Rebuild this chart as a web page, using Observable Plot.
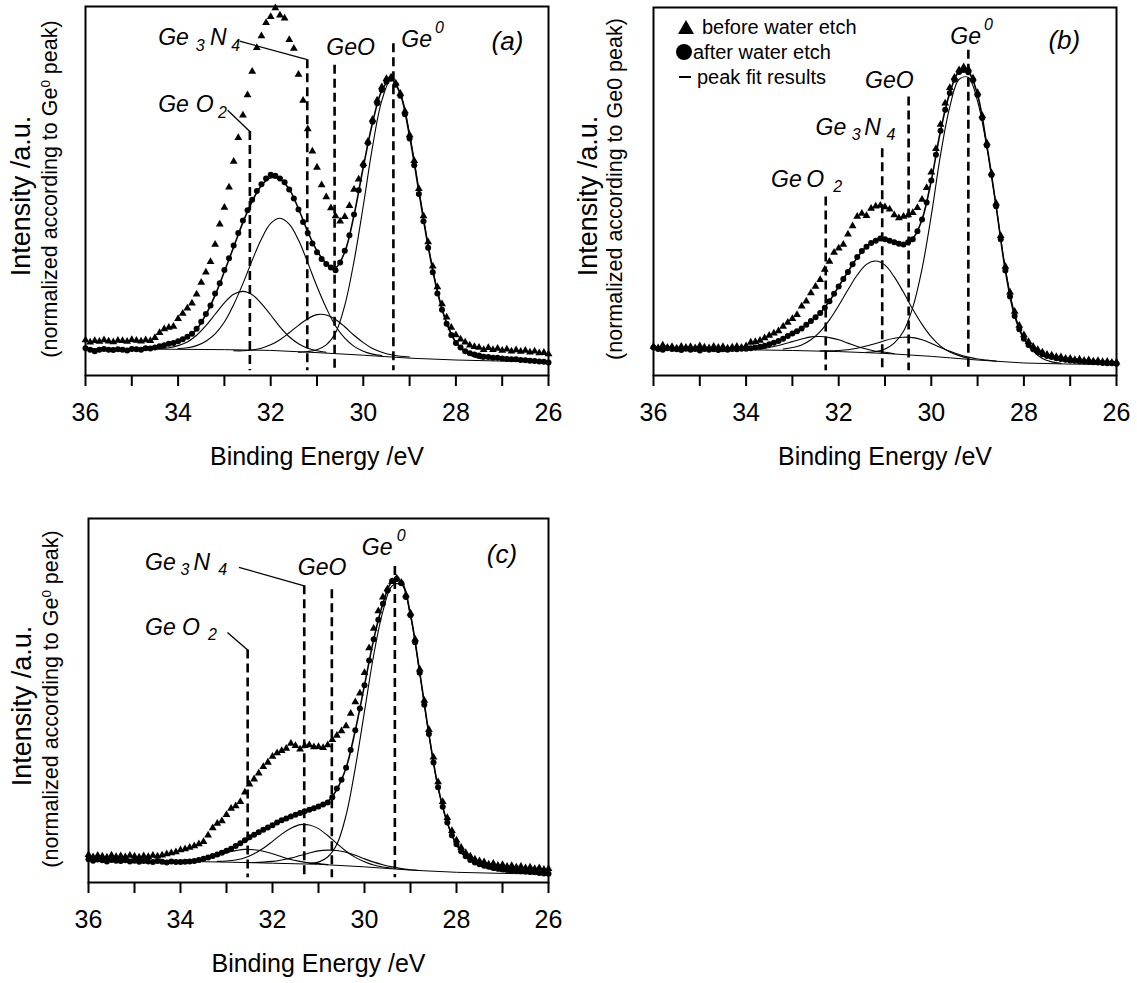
<!DOCTYPE html>
<html>
<head>
<meta charset="utf-8">
<script src="https://cdn.jsdelivr.net/npm/d3@7"></script>
<script src="https://cdn.jsdelivr.net/npm/@observablehq/plot@0.6"></script>
<style>
  html,body{margin:0;padding:0;background:#fff;}
  #root{position:relative;width:1137px;height:983px;overflow:hidden;font-family:"Liberation Sans",Arial,Helvetica,sans-serif;color:#000;}
  .panel{position:absolute;}
  .ylab{position:absolute;white-space:nowrap;transform:translate(-50%,-50%) rotate(-90deg);line-height:1;}
  .ylab sup{font-size:0.62em;vertical-align:0.55em;line-height:0;}
  .leg{position:absolute;font-size:20px;line-height:1;white-space:nowrap;transform:translateY(-50%);}
</style>
</head>
<body>
<div id="root"></div>
<script>
// ---------------- data (intensity in a.u., binding energy in eV) ----------------
const energy = d3.range(101).map(i => +(36 - 0.1 * i).toFixed(1));   // 36.0 ... 26.0 eV
const bgEnergy = d3.range(36, 25.5, -1);                              // 36 ... 26 eV
const grid02 = (start, n) => d3.range(n).map(i => +(start - 0.2 * i).toFixed(1));

// panel (a)
const aBefore = [9.6,9.0,9.4,9.2,9.6,9.3,9.1,9.5,9.4,9.2,9.7,9.5,9.3,9.6,9.4,10.2,11.6,12.6,13.0,13.3,15.4,16.8,18.2,19.6,22.0,25.2,28.0,30.8,35.5,41.0,45.5,51.0,58.0,64.4,70.5,76.0,82.4,88.8,92.0,95.6,97.2,99.6,97.6,96.8,91.0,88.6,81.6,74.5,66.8,60.8,56.4,51.6,48.4,45.4,43.2,41.8,43.0,46.0,50.4,53.2,57.4,63.4,69.4,74.6,78.2,80.4,80.8,79.2,76.4,71.6,65.2,58.2,50.6,43.2,36.2,29.6,24.0,19.4,15.8,13.0,11.0,9.8,9.0,8.2,7.8,7.6,7.0,7.5,7.0,7.3,6.8,7.1,6.6,6.9,6.5,6.8,6.3,6.6,6.1,6.2,5.8];
const aAfter = [7.4,7.0,6.6,7.0,7.2,7.0,6.9,7.1,7.0,6.8,7.2,7.1,7.0,7.4,7.3,7.6,7.9,8.2,8.6,8.8,9.3,9.8,10.5,11.3,12.7,14.6,16.7,19.0,22.2,25.0,28.6,31.8,35.2,38.6,42.0,44.8,47.6,50.0,51.8,53.4,54.4,54.1,53.4,52.4,50.4,48.0,45.0,41.6,38.6,35.8,33.4,31.6,30.2,29.3,28.5,30.6,33.8,38.0,43.6,50.2,57.0,63.0,68.8,73.8,77.4,79.6,80.4,78.8,75.8,70.8,64.2,57.0,49.2,41.8,34.6,28.0,22.2,17.8,14.0,11.0,8.8,7.6,6.6,6.0,5.7,5.4,5.1,5.0,4.8,4.8,4.6,4.5,4.4,4.4,4.2,4.1,4.0,3.9,3.8,3.7,3.5];
const aEnvelope = [7.2,7.2,7.15,7.15,7.1,7.1,7.1,7.2,7.7,8.4,9.2,10.4,12.5,16.5,21.8,28.2,34.8,41.5,47.2,51.5,53.6,53.2,50.5,45.2,39.0,33.8,30.4,29.2,33.5,43.5,56.5,68.5,77.2,80.4,76.2,64.8,49.8,35.0,22.7,14.2,9.0,6.6,5.6,5.1,4.8,4.6,4.4,4.2,4.0,3.8,3.6];
const aBackground = [7.2,7.15,7.1,7.0,6.8,6.2,5.5,4.7,4.2,3.9,3.7];
const aFitGeO2 = [7.3,7.5,8.1,9.1,10.9,13.5,16.6,19.7,22.0,22.8,21.9,19.5,16.4,13.2,10.5,8.6,7.4,6.7,6.3];            // from 34.4 eV
const aFitGe3N4 = [7.3,7.5,8.1,9.3,11.3,14.5,19.2,24.9,31.2,37.0,41.2,42.6,41.0,36.7,30.6,24.1,18.3,13.4,10.1,7.9,6.6,5.8,5.4]; // from 34.0 eV
const aFitGeO = [6.7,6.7,6.9,7.4,8.3,9.7,11.6,13.6,15.4,16.5,16.4,15.2,13.2,10.9,8.9,7.3,6.3,5.6,5.2,5.0];          // from 32.8 eV
const aFitGe0 = [6.3,6.5,7.0,8.3,11.5,19.0,31.0,46.0,62.0,74.5,80.2,76.5,65.5,50.5,35.5,23.0,14.2,9.0,6.3,5.0,4.4]; // from 31.4 eV

// panel (b)
const bBefore = [7.9,7.5,8.2,7.6,7.8,7.4,7.9,7.6,7.8,7.5,8.0,7.7,7.5,7.9,7.6,7.8,7.4,7.7,7.9,7.6,8.0,
  9.0,9.2,9.5,10.2,10.9,11.5,12.1,13.3,14.4,15.4,16.5,18.8,20.2,22.4,24.2,26.0,28.8,31.0,33.4,34.6,35.6,38.4,40.6,43.2,44.0,43.4,45.4,46.0,46.2,45.8,45.2,43.6,42.8,43.2,43.6,44.2,45.6,47.8,51.0,55.2,
  61.6,68.2,74.0,78.2,81.0,83.0,83.8,83.2,80.8,76.8,70.6,63.2,55.0,46.8,38.0,29.6,22.6,17.4,13.6,11.0,9.2,7.9,7.0,6.3,5.7,5.5,5.1,5.0,4.6,4.6,4.3,4.4,4.1,4.2,3.9,4.0,3.7,3.8,3.5,3.6];
const bAfter = [7.6,7.2,7.0,7.4,7.2,7.1,6.9,7.3,7.0,7.2,6.8,7.2,7.0,7.1,6.9,7.1,7.0,7.2,7.1,7.3,7.3,
  7.4,7.6,7.8,8.1,8.5,8.9,9.4,10.0,10.7,11.4,12.0,12.8,13.8,14.8,15.8,17.0,18.4,20.2,22.2,24.2,26.2,28.1,30.2,32.2,33.8,35.0,36.0,36.6,37.2,37.0,36.6,36.2,35.8,35.6,36.2,37.0,39.2,42.4,47.0,53.0,
  60.0,66.5,72.2,76.8,80.4,82.5,83.0,82.4,80.2,76.2,70.0,62.5,54.5,46.0,37.0,28.5,21.5,16.2,12.6,10.0,8.3,7.1,6.3,5.8,5.3,5.0,4.7,4.5,4.3,4.1,4.0,3.9,3.8,3.7,3.6,3.5,3.4,3.3,3.3,3.2];
const bEnvelope = [7.3,7.25,7.2,7.15,7.1,7.1,7.05,7.0,7.05,7.1,7.25,7.55,8.1,8.9,10.0,11.3,12.8,14.7,17.0,20.2,24.2,28.2,32.0,35.0,36.6,37.0,36.4,35.8,37.2,42.4,53.0,66.5,76.8,82.5,82.4,76.2,62.5,46.0,28.5,16.2,10.0,7.1,5.8,5.0,4.5,4.1,3.9,3.7,3.5,3.3,3.2];
const bBackground = [7.3,7.2,7.0,6.8,6.5,6.0,5.2,4.2,3.4,3.1,3.0];
const bFitGeO2 = [7.1,7.2,7.4,7.9,8.5,9.2,9.9,10.5,10.6,10.3,9.7,8.8,7.9,7.2,6.6,6.3,5.9];                     // from 34.0 eV
const bFitGe3N4 = [7.2,7.6,8.3,9.7,11.9,15.1,19.0,23.3,27.3,30.2,31.1,30.0,26.8,22.6,18.0,13.9,10.5,8.0,6.4,5.4,4.7]; // from 33.2 eV
const bFitGeO = [6.7,6.7,6.8,7.0,7.4,8.0,8.7,9.5,10.1,10.4,10.3,9.7,8.7,7.6,6.6,5.7,5.0,4.5,4.2,3.9];            // from 32.4 eV
const bFitGe0 = [6.3,6.5,7.2,8.8,12.0,18.5,29.0,43.5,60.0,73.0,80.5,81.0,74.5,62.0,46.0,29.0,16.8,10.0,6.6,4.6,3.7,3.3]; // from 31.4 eV

// panel (c)
const cBefore = [7.6,7.0,7.4,7.2,6.9,7.5,7.1,7.3,7.0,7.4,7.2,6.9,7.3,7.1,7.4,7.2,7.5,
  7.8,8.1,8.4,8.9,9.2,9.6,10.0,10.6,11.2,13.0,15.0,16.2,16.9,18.6,20.3,21.0,22.2,24.8,27.0,28.4,30.0,31.8,33.0,34.6,35.6,36.2,36.8,38.2,37.6,36.6,37.6,37.8,37.2,37.3,37.0,37.8,39.2,40.4,41.6,43.0,46.4,49.6,52.0,57.6,
  64.4,69.8,74.6,78.4,80.6,82.6,83.6,82.4,79.0,74.0,66.8,58.6,50.0,42.0,34.4,27.6,22.2,17.8,14.2,11.6,9.6,8.2,7.2,6.4,5.9,5.6,5.0,5.2,4.7,4.9,4.4,4.6,4.2,4.4,4.0,4.2,3.8,4.0,3.6,3.8];
const cAfter = [6.4,6.0,6.3,6.1,5.8,6.2,6.0,5.9,6.1,5.8,6.0,5.7,5.9,5.8,5.6,5.9,5.7,5.5,5.8,5.6,5.6,
  5.7,5.8,5.9,6.2,6.5,6.9,7.3,7.7,8.2,8.7,9.3,10.0,10.8,11.6,12.4,13.1,13.8,14.5,15.1,15.7,16.5,17.1,17.6,18.1,18.6,19.1,19.6,20.0,20.4,20.9,21.4,22.0,23.4,25.8,28.2,31.5,36.4,41.8,47.8,54.2,
  61.0,66.8,72.2,76.6,80.2,82.8,83.4,82.2,78.4,73.4,66.0,57.6,48.8,40.8,33.0,26.2,20.8,16.5,13.0,10.5,8.6,7.2,6.2,5.5,5.0,4.6,4.3,4.0,3.8,3.6,3.5,3.3,3.2,3.1,3.0,2.9,2.8,2.6,2.5,2.4];
const cEnvelope = [6.2,6.15,6.1,6.05,6.0,5.95,5.9,5.85,5.8,5.8,5.8,5.85,6.1,6.7,7.6,8.7,10.0,11.5,13.0,14.4,15.7,17.0,18.1,19.1,20.0,20.9,22.2,25.6,31.5,41.8,54.2,66.8,76.6,82.6,82.6,73.6,57.8,40.8,26.2,16.5,10.5,7.2,5.5,4.6,4.0,3.6,3.3,3.1,2.9,2.6,2.4];
const cBackground = [6.2,6.0,5.8,5.6,5.3,5.0,4.3,3.4,2.8,2.5,2.3];
const cFitGeO2 = [5.9,5.95,6.1,6.4,6.8,7.5,8.2,8.75,9.1,9.0,8.6,7.9,7.1,6.3,5.8,5.4,5.2,4.9];                 // from 34.2 eV
const cFitGe3N4 = [5.8,5.9,6.2,6.8,7.9,9.4,11.3,13.3,14.9,15.9,15.8,14.8,12.9,10.7,8.6,6.9,5.7,4.8,4.25,3.9];     // from 33.2 eV
const cFitGeO = [5.5,5.5,5.6,5.8,6.2,6.7,7.4,8.1,8.7,8.9,8.8,8.3,7.5,6.5,5.6,4.9,4.3,3.8,3.5,3.3];              // from 32.6 eV
const cFitGe0 = [5.2,5.6,7.0,10.5,18.5,31.5,47.0,62.5,74.5,81.5,82.0,73.2,57.5,40.6,26.0,16.3,10.3,7.0,5.2,4.2,3.5,3.0,2.7]; // from 31.2 eV

// peak reference positions (eV) per panel: GeO2, Ge3N4, GeO, Ge0
const aPeakEnergies = [32.45, 31.21, 30.62, 29.35];
const bPeakEnergies = [32.28, 31.06, 30.49, 29.20];
const cPeakEnergies = [32.54, 31.31, 30.71, 29.34];

// ---------------- drawing ----------------
const FONT = "Liberation Sans, Arial, Helvetica, sans-serif";
const series = (xs, ys) => ys.map((v, i) => ({e: xs[i], v}));

function drawPanel(cfg) {
  const fits = cfg.fits.map(([start, vals]) => series(grid02(start, vals.length), vals));
  const dashes = cfg.peaks.map((e, i) => ({e, top: cfg.dashTop[i], bottom: 1.3}));
  const chart = Plot.plot({
    width: cfg.width, height: cfg.height,
    marginLeft: cfg.m[0], marginRight: cfg.m[1], marginTop: cfg.m[2], marginBottom: cfg.m[3],
    x: {domain: [36, 26]},
    y: {domain: [0, 100], axis: null},
    style: {fontFamily: FONT, background: "transparent", overflow: "visible", color: "#000"},
    marks: [
      Plot.line(series(bgEnergy, cfg.background), {x: "e", y: "v", stroke: "#000", strokeWidth: 1}),
      ...fits.map(f => Plot.line(f, {x: "e", y: "v", curve: "catmull-rom", stroke: "#000", strokeWidth: 1.1})),
      Plot.line(series(grid02(36, 51), cfg.envelope), {x: "e", y: "v", curve: "catmull-rom", stroke: "#000", strokeWidth: 1.6}),
      Plot.ruleX(dashes, {x: "e", y1: "top", y2: "bottom", stroke: "#000", strokeWidth: 2.6, strokeDasharray: "9,5"}),
      Plot.link(cfg.leaders, {x1: "e1", y1: "v1", x2: "e2", y2: "v2", stroke: "#000", strokeWidth: 1.3}),
      Plot.dot(series(energy, cfg.before), {x: "e", y: "v", symbol: "triangle", r: 2.9, fill: "#000", stroke: "none"}),
      Plot.dot(series(energy, cfg.after), {x: "e", y: "v", symbol: "circle", r: 3, fill: "#000", stroke: "none"}),
      Plot.text(cfg.labels, {x: "e", y: "v", text: "t", fontSize: "s", fontStyle: "italic", textAnchor: "start", lineAnchor: "bottom", fill: "#000"}),
      Plot.frame({stroke: "#000", strokeWidth: 2}),
      Plot.axisX({ticks: d3.range(26, 37), tickSize: 11, tickPadding: 17, strokeWidth: 2,
        tickFormat: d => d % 2 === 0 ? String(d) : "", fontSize: 25, label: null}),
      Plot.text(["Binding Energy /eV"], {frameAnchor: "bottom", dy: 81, lineAnchor: "middle", fontSize: 25, fill: "#000"})
    ]
  });
  const holder = document.createElement("div");
  holder.className = "panel";
  holder.style.left = cfg.left + "px";
  holder.style.top = cfg.top + "px";
  holder.appendChild(chart);
  document.getElementById("root").appendChild(holder);
}

const lab = (e, v, t, s) => ({e, v, t, s});

drawPanel({
  left: 0, top: 0, width: 568, height: 480, m: [85, 20, 6, 105],
  before: aBefore, after: aAfter, envelope: aEnvelope, background: aBackground,
  fits: [[34.4, aFitGeO2], [34.0, aFitGe3N4], [32.8, aFitGeO], [31.4, aFitGe0]],
  peaks: aPeakEnergies, dashTop: [66.1, 85.6, 84.1, 89.9],
  leaders: [{e1: 32.93, v1: 71.9, e2: 32.45, v2: 66.1}, {e1: 32.67, v1: 90.6, e2: 31.21, v2: 85.6}],
  labels: [lab(34.43, 71.5, "Ge", 23), lab(33.62, 71.5, "O", 23), lab(33.14, 69.8, "2", 16),
           lab(34.43, 89.5, "Ge", 23), lab(33.62, 88.0, "3", 16), lab(33.31, 89.5, "N", 23), lab(32.85, 88.0, "4", 16),
           lab(30.80, 86.8, "GeO", 23), lab(29.18, 89.0, "Ge", 23), lab(28.45, 92.8, "0", 16),
           lab(27.23, 88.1, "(a)", 26)]
});

drawPanel({
  left: 568, top: 0, width: 569, height: 480, m: [85, 21, 7, 105],
  before: bBefore, after: bAfter, envelope: bEnvelope, background: bBackground,
  fits: [[34.0, bFitGeO2], [33.2, bFitGe3N4], [32.4, bFitGeO], [31.4, bFitGe0]],
  peaks: bPeakEnergies, dashTop: [48.5, 61.6, 75.7, 88.4],
  leaders: [],
  labels: [lab(33.46, 51.2, "Ge", 23), lab(32.70, 51.2, "O", 23), lab(32.12, 49.9, "2", 16),
           lab(32.50, 65.3, "Ge", 23), lab(31.72, 63.9, "3", 16), lab(31.45, 65.3, "N", 23), lab(30.97, 63.9, "4", 16),
           lab(31.43, 78.2, "GeO", 23), lab(29.59, 90.2, "Ge", 23), lab(28.86, 94.0, "0", 16),
           lab(27.47, 88.8, "(b)", 26)]
});

drawPanel({
  left: 0, top: 490, width: 568, height: 493, m: [88, 20, 28, 101],
  before: cBefore, after: cAfter, envelope: cEnvelope, background: cBackground,
  fits: [[34.2, cFitGeO2], [33.2, cFitGe3N4], [32.6, cFitGeO], [31.2, cFitGe0]],
  peaks: cPeakEnergies, dashTop: [63.9, 81.5, 80.4, 86.8],
  leaders: [{e1: 32.98, v1: 68.7, e2: 32.54, v2: 63.9}, {e1: 32.73, v1: 86.6, e2: 31.31, v2: 81.5}],
  labels: [lab(34.77, 68.0, "Ge", 23), lab(33.97, 68.0, "O", 23), lab(33.40, 66.6, "2", 16),
           lab(34.77, 85.8, "Ge", 23), lab(34.00, 84.4, "3", 16), lab(33.72, 85.8, "N", 23), lab(33.18, 84.4, "4", 16),
           lab(31.45, 84.5, "GeO", 23), lab(30.06, 90.0, "Ge", 23), lab(29.30, 93.8, "0", 16),
           lab(27.34, 87.7, "(c)", 26)]
});

// axis titles (y) and legend
function addHTML(cls, x, y, html, size) {
  const d = document.createElement("div");
  d.className = cls;
  d.style.left = x + "px";
  d.style.top = y + "px";
  if (size) d.style.fontSize = size + "px";
  d.innerHTML = html;
  document.getElementById("root").appendChild(d);
}
const yTitle = "Intensity /a.u.";
const ySub = "(normalized according to Ge<sup>0</sup> peak)";
const ySubB = "(normalized according to Ge0 peak)";
addHTML("ylab", 21, 196, yTitle, 27);
addHTML("ylab", 51, 189, ySub, 21.5);
addHTML("ylab", 588, 196, yTitle, 27);
addHTML("ylab", 616, 189, ySubB, 21.5);
addHTML("ylab", 22, 706, yTitle, 27);
addHTML("ylab", 52, 699, ySub, 21.5);

const tri = '<svg width="16" height="14" style="position:absolute;left:-24px;top:50%;transform:translateY(-50%)"><path d="M8 0 L16 14 L0 14 Z" fill="#000"/></svg>';
const cir = '<svg width="16" height="16" style="position:absolute;left:-17px;top:50%;transform:translateY(-50%)"><circle cx="8" cy="8" r="8" fill="#000"/></svg>';
const dsh = '<svg width="12" height="4" style="position:absolute;left:-18px;top:50%;transform:translateY(-50%)"><rect x="0" y="1" width="12" height="2" fill="#000"/></svg>';
addHTML("leg", 702, 27, tri + "before water etch");
addHTML("leg", 693, 52, cir + "after water etch");
addHTML("leg", 697, 77, dsh + "peak fit results");
</script>
</body>
</html>
